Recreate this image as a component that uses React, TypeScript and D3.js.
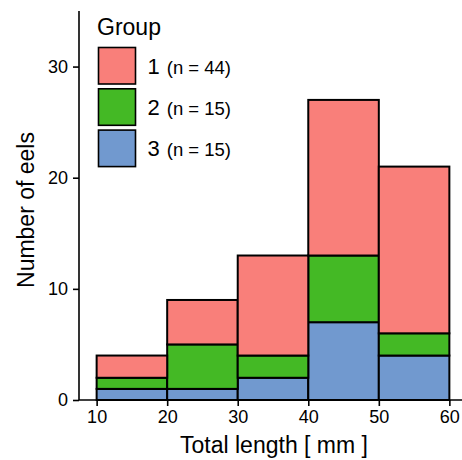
import React, { useEffect, useRef } from 'react';
import * as d3 from 'd3';

// Stacked histogram of eel lengths by group

const binStarts = [10, 20, 30, 40, 50];
const binWidth = 10;
const group3 = [1, 1, 2, 7, 4];
const group2 = [1, 4, 2, 6, 2];
const group1 = [2, 4, 9, 14, 15];
const groupNames = ['1', '2', '3'];
const groupCounts = [44, 15, 15];
const groupColors = ['#F97F7A', '#44B925', '#7199CF'];
const xTicks = [10, 20, 30, 40, 50, 60];
const yTicks = [0, 10, 20, 30];

const App = () => {
  const svgRef = useRef<SVGSVGElement>(null);

  useEffect(() => {
    const width = 462;
    const font = 'Liberation Sans, Arial, Helvetica, sans-serif';

    const svg = d3.select(svgRef.current);
    svg.selectAll('*').remove();

    const xScale = d3.scaleLinear().domain([7.5, 62.5]).range([79, 467]);
    const yScale = d3.scaleLinear().domain([0, 35]).range([400, 11]);

    // rows for stacking, bottom layer is group 3
    const rows = binStarts.map((b, i) => ({ b, g3: group3[i], g2: group2[i], g1: group1[i] }));
    const stack = d3.stack<any>().keys(['g3', 'g2', 'g1']);
    const layers = stack(rows);
    const layerColor: Record<string, string> = { g3: groupColors[2], g2: groupColors[1], g1: groupColors[0] };

    layers.forEach(layer => {
      svg.append('g')
        .selectAll('rect')
        .data(layer)
        .enter()
        .append('rect')
        .attr('x', d => xScale(d.data.b))
        .attr('width', d => xScale(d.data.b + binWidth) - xScale(d.data.b))
        .attr('y', d => yScale(d[1]))
        .attr('height', d => yScale(d[0]) - yScale(d[1]))
        .attr('fill', layerColor[layer.key])
        .attr('stroke', 'black')
        .attr('stroke-width', 2);
    });

    // x axis
    const xAxis = svg.append('g')
      .attr('transform', `translate(0, 400)`)
      .call(d3.axisBottom(xScale).tickValues(xTicks).tickSize(6).tickPadding(4).tickFormat(d3.format('d')));
    xAxis.select('.domain').attr('stroke-width', 1.6).attr('d', `M79,0H${width}`);
    xAxis.selectAll('.tick line').attr('stroke-width', 1.6);
    xAxis.selectAll('.tick text').attr('font-size', 18).attr('font-family', font).attr('fill', 'black');

    // y axis
    const yAxis = svg.append('g')
      .attr('transform', `translate(79, 0)`)
      .call(d3.axisLeft(yScale).tickValues(yTicks).tickSize(6).tickPadding(5));
    yAxis.select('.domain').attr('stroke-width', 1.6).attr('d', 'M0,11V400');
    yAxis.selectAll('.tick line').attr('stroke-width', 1.6);
    yAxis.selectAll('.tick text').attr('font-size', 18).attr('font-family', font).attr('fill', 'black');

    // axis titles
    svg.append('text')
      .attr('x', 274)
      .attr('y', 453)
      .attr('text-anchor', 'middle')
      .attr('font-size', 23)
      .attr('font-family', font)
      .text('Total length [ mm ]');

    svg.append('text')
      .attr('transform', 'translate(34, 210) rotate(-90)')
      .attr('text-anchor', 'middle')
      .attr('font-size', 23)
      .attr('font-family', font)
      .text('Number of eels');

    // legend
    const legend = svg.append('g');
    legend.append('text')
      .attr('x', 97)
      .attr('y', 35)
      .attr('font-size', 23)
      .attr('font-family', font)
      .text('Group');

    groupNames.forEach((name, i) => {
      const y = 47.5 + i * 41.3;
      legend.append('rect')
        .attr('x', 98.5)
        .attr('y', y)
        .attr('width', 37)
        .attr('height', 36.5)
        .attr('fill', groupColors[i])
        .attr('stroke', 'black')
        .attr('stroke-width', 1.6);
      const t = legend.append('text')
        .attr('x', 147.5)
        .attr('y', y + 26)
        .attr('font-family', font);
      t.append('tspan').attr('font-size', 22).text(name);
      t.append('tspan').attr('font-size', 18.5).attr('dx', 7).text(`(n = ${groupCounts[i]})`);
    });
  }, []);

  return (
    <svg
      ref={svgRef}
      width="462"
      height="460"
      style={{ position: 'absolute', left: 0, top: 0, background: 'white' }}
    />
  );
};

export default App;
